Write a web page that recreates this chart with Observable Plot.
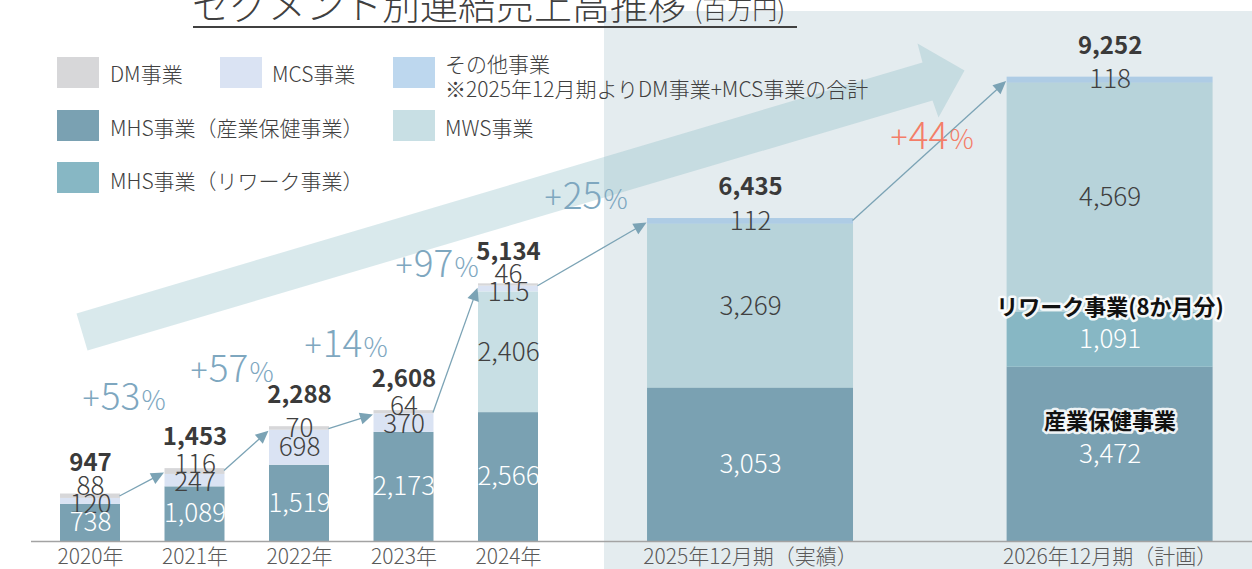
<!DOCTYPE html>
<html lang="ja">
<head>
<meta charset="utf-8">
<script src="https://cdn.jsdelivr.net/npm/d3@7"></script>
<script src="https://cdn.jsdelivr.net/npm/@observablehq/plot@0.6"></script>
<style>
  html,body{margin:0;padding:0;background:#fff;}
  #wrap{position:relative;width:1252px;height:569px;overflow:hidden;font-family:"Noto Sans CJK JP","Noto Sans",sans-serif;color:#404040;}
  #chart{position:absolute;left:0;top:0;}
  #title{position:absolute;left:192px;top:-16px;font-size:38px;line-height:38px;font-weight:300;white-space:nowrap;color:#404040;}
  #title .unit{font-size:25px;}
  #underline{position:absolute;left:193px;top:26px;width:604px;height:2px;background:#404040;}
  .sw{position:absolute;width:42px;height:31px;}
  .lt{position:absolute;font-size:21px;line-height:30px;height:30px;white-space:nowrap;color:#404040;font-weight:300;}
</style>
</head>
<body>
<div id="wrap">
  <div id="chart"></div>
  <div id="title">セグメント別連結売上高推移 <span class="unit">(百万円)</span></div>
  <div id="underline"></div>
  <div id="legend"></div>
</div>
<script>
// ---------------- data ----------------
const categories = ["2020年", "2021年", "2022年", "2023年", "2024年", "2025年12月期（実績）", "2026年12月期（計画）"];
const series = ["MHS事業（産業保健事業）", "MHS事業（リワーク事業）", "MWS事業", "MCS事業", "DM事業", "その他事業"];
const seriesColors = ["#7aa1b2", "#87b7c4", "rgba(106,169,182,0.37)", "#dae3f3", "#d7d7d9", "rgba(105,164,216,0.44)"];
const mhsSangyo = [738, 1089, 1519, 2173, 2566, 3053, 3472];
const mhsRework = [0, 0, 0, 0, 0, 0, 1091];
const mws       = [0, 0, 0, 0, 2406, 3269, 4569];
const mcs       = [120, 247, 698, 370, 115, 0, 0];
const dm        = [88, 116, 70, 64, 46, 0, 0];
const other     = [0, 0, 0, 0, 0, 112, 118];
const totals    = [947, 1453, 2288, 2608, 5134, 6435, 9252];
const growthLabels = ["+53%", "+57%", "+14%", "+97%", "+25%", "+44%"];
const segmentNotes = [
  {cat: 6, series: "MHS事業（リワーク事業）", text: "リワーク事業(8か月分)"},
  {cat: 6, series: "MHS事業（産業保健事業）", text: "産業保健事業"}
];
const legendOrder = ["DM事業", "MCS事業", "その他事業", "MHS事業（産業保健事業）", "MWS事業", "MHS事業（リワーク事業）"];
const legendNote = "※2025年12月期よりDM事業+MCS事業の合計";

// ---------------- layout ----------------
const W = 1252, H = 569, MB = 28;
const plotBottom = H - MB;           // pixel row of value 0
const YMAX = 10777;
const X0 = -90 / 104.5, X1 = 1162 / 104.5;
const slot = [0, 1, 2, 3, 4, 6.316, 9.757];
const barW = i => (i < 5 ? 0.574 : 1.971);
const pxX = u => (u - X0) / (X1 - X0) * W;
const pxY = v => plotBottom - v / YMAX * plotBottom;
const uX = p => X0 + p / W * (X1 - X0);
const vY = p => (plotBottom - p) / plotBottom * YMAX;
const growthAnchorPx = [[120, 409], [228, 381], [342, 356], [433, 276], [582, 208], [928, 148]];
const bigArrowPx = [[76, 313], [922, 62], [917, 43], [964, 70], [938, 117], [932, 100], [87, 350]];

const fmt = d3.format(",");
const seriesValues = [mhsSangyo, mhsRework, mws, mcs, dm, other];

// stacked segments
const rows = [];
categories.forEach((c, i) => {
  let acc = 0;
  seriesValues.forEach((arr, s) => {
    const v = arr[i];
    if (!v) return;
    rows.push({cat: c, i, series: series[s], value: v, y1: acc, y2: acc + v});
    acc += v;
  });
});

// value labels, nudged apart when segments are thin
const labels = [];
categories.forEach((c, i) => {
  const segs = rows.filter(r => r.i === i).map(r => ({...r, py: pxY((r.y1 + r.y2) / 2)}));
  for (let it = 0; it < 30; it++) {
    for (let j = 1; j < segs.length; j++) {
      const lo = segs[j - 1], hi = segs[j];
      const gap = lo.py - hi.py;
      if (gap < 18) { const d = 18 - gap; lo.py += d * 0.25; hi.py -= d * 0.75; }
    }
  }
  segs.forEach(s => labels.push({...s, ly: vY(s.py)}));
});
const whiteSeries = new Set([series[0], series[1]]);

// connector arrows between bar tops
const arrowLines = [], arrowHeads = [];
for (let i = 0; i < categories.length - 1; i++) {
  const sx = pxX(slot[i] + barW(i) / 2) - 1, sy = pxY(totals[i]) + 2;
  const tx = pxX(slot[i + 1] - barW(i + 1) / 2) - 1, ty = pxY(totals[i + 1]) + 4;
  const dx = tx - sx, dy = ty - sy, L = Math.hypot(dx, dy);
  const ux = dx / L, uy = dy / L, hl = 13, hw = 6;
  const bx = tx - ux * hl, by = ty - uy * hl;
  arrowLines.push({x1: uX(sx), y1: vY(sy), x2: uX(bx + ux * 2), y2: vY(by + uy * 2)});
  arrowHeads.push(
    {id: i, x: uX(tx), y: vY(ty)},
    {id: i, x: uX(bx - uy * hw), y: vY(by + ux * hw)},
    {id: i, x: uX(bx + uy * hw), y: vY(by - ux * hw)}
  );
}
const bigArrow = bigArrowPx.map(([x, y]) => ({x: uX(x), y: vY(y)}));

// growth labels split into "+", digits, "%"
const growth = growthLabels.map((g, i) => ({
  plus: "+", num: g.replace(/[+%]/g, ""), pct: "%",
  x: uX(growthAnchorPx[i][0]), y: vY(growthAnchorPx[i][1]), hot: i === growthLabels.length - 1
}));

const notes = segmentNotes.map(n => {
  const r = rows.find(r => r.i === n.cat && r.series === n.series);
  return {x: slot[n.cat], y: (r.y1 + r.y2) / 2, text: n.text};
});

const growthMarks = (data, color) => [
  Plot.text(data, {x: "x", y: "y", text: "num", lineAnchor: "bottom", fill: color, fontSize: 37, fontWeight: 200}),
  Plot.text(data, {x: "x", y: "y", text: "plus", lineAnchor: "bottom", textAnchor: "end", dx: -21, fill: color, fontSize: 32, fontWeight: 200}),
  Plot.text(data, {x: "x", y: "y", text: "pct", lineAnchor: "bottom", textAnchor: "start", dx: 21, fill: color, fontSize: 27, fontWeight: 200})
];

const font = "'Noto Sans CJK JP', 'Noto Sans', sans-serif";
const chart = Plot.plot({
  width: W, height: H,
  marginTop: 0, marginBottom: MB, marginLeft: 0, marginRight: 0,
  x: {domain: [X0, X1], axis: null},
  y: {domain: [0, YMAX], axis: null},
  color: {domain: series, range: seriesColors},
  style: {fontFamily: font, background: "#fff", overflow: "visible"},
  marks: [
    // shaded panel for 2025/2026
    Plot.rect([0], {x1: uX(604), x2: X1, y1: vY(H), y2: vY(11), fill: "#e4ecef"}),
    // big trend arrow
    Plot.line(bigArrow, {x: "x", y: "y", curve: "linear-closed", fill: "rgba(128,182,192,0.3)", stroke: "none"}),
    // bars
    Plot.rect(rows, {x1: d => slot[d.i] - barW(d.i) / 2, x2: d => slot[d.i] + barW(d.i) / 2, y1: "y1", y2: "y2", fill: "series"}),
    // baseline
    Plot.ruleY([0], {x1: uX(31), x2: X1, stroke: "#a3a3a3", strokeWidth: 1.3}),
    // connectors
    Plot.link(arrowLines, {x1: "x1", y1: "y1", x2: "x2", y2: "y2", stroke: "#7ba3b5", strokeWidth: 1.3}),
    Plot.line(arrowHeads, {x: "x", y: "y", z: "id", curve: "linear-closed", fill: "#7ba3b5", stroke: "none"}),
    // value labels
    Plot.text(labels.filter(d => !whiteSeries.has(d.series)), {x: d => slot[d.i], y: "ly", text: d => fmt(d.value), fill: "#404040", fontSize: 26, fontWeight: 300}),
    Plot.text(labels.filter(d => whiteSeries.has(d.series)), {x: d => slot[d.i], y: "ly", text: d => fmt(d.value), fill: "#ffffff", fontSize: 26, fontWeight: 300}),
    // totals
    Plot.text(totals, {x: (d, i) => slot[i], y: d => d, dy: -31, text: d => fmt(d), fill: "#3a3a3a", fontSize: 24, fontWeight: "bold"}),
    // segment notes
    Plot.text(notes, {x: "x", y: "y", dy: -32, text: "text", fill: "#111", stroke: "#fff", strokeWidth: 5, strokeOpacity: 0.9, fontSize: 22, fontWeight: "bold"}),
    // growth labels
    ...growthMarks(growth.filter(d => !d.hot), "#7ea7bf"),
    ...growthMarks(growth.filter(d => d.hot), "#f47d68"),
    // category labels
    Plot.text(categories, {x: (d, i) => slot[i], y: 0, dy: 16, text: d => d, fill: "#595959", fontSize: 21, fontWeight: 300})
  ]
});
document.getElementById("chart").appendChild(chart);

// ---------------- legend (HTML overlay) ----------------
const legendPos = [[57, 57, 110, 73], [220, 57, 272, 73], [393, 57, 445, 63], [57, 110, 110, 127], [393, 110, 445, 127], [57, 162, 110, 180]];
const legend = document.getElementById("legend");
legendOrder.forEach((name, k) => {
  const [sx, sy, tx, ty] = legendPos[k];
  const sw = document.createElement("div");
  sw.className = "sw";
  sw.style.left = sx + "px"; sw.style.top = sy + "px";
  sw.style.background = seriesColors[series.indexOf(name)];
  legend.appendChild(sw);
  const t = document.createElement("div");
  t.className = "lt";
  t.style.left = tx + "px"; t.style.top = (ty - 15) + "px";
  t.textContent = name;
  legend.appendChild(t);
  if (name === "その他事業") {
    const n = document.createElement("div");
    n.className = "lt";
    n.style.left = tx + "px"; n.style.top = (ty + 25 - 15) + "px";
    n.textContent = legendNote;
    legend.appendChild(n);
  }
});
</script>
</body>
</html>
